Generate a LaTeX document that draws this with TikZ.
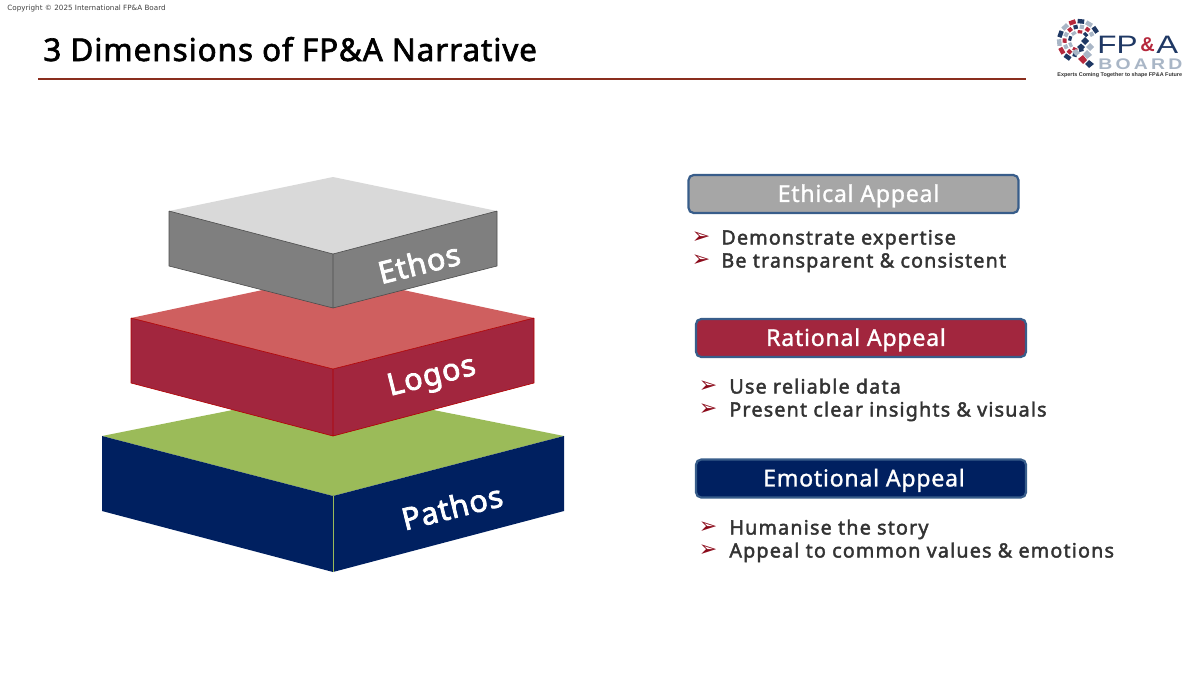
\documentclass[tikz,border=0pt]{standalone}
\usepackage{fontspec}
\usetikzlibrary{calc}
\setmainfont{DejaVu Sans}
\newfontfamily\condfont{Liberation Sans}
\newfontfamily\titlefont[LetterSpace=3,FakeBold=2]{Noto Sans}
\newfontfamily\headfont[LetterSpace=3,FakeBold=1.2]{Noto Sans}
\newfontfamily\slabfont[LetterSpace=3,FakeBold=2.6]{Noto Sans}
\newfontfamily\spacedfont[LetterSpace=6,FakeBold=2.1]{Noto Sans}
\definecolor{navy}{HTML}{002060}
\definecolor{crimson}{HTML}{A2263E}
\definecolor{rosetop}{HTML}{CF5F5F}
\definecolor{grass}{HTML}{9BBB59}
\definecolor{greyfront}{HTML}{7F7F7F}
\definecolor{greytop}{HTML}{D9D9D9}
\definecolor{greybox}{HTML}{A6A6A6}
\definecolor{boxedge}{HTML}{385D8A}
\definecolor{rulered}{HTML}{8A2E1E}
\definecolor{bullred}{HTML}{8B0A1A}
\definecolor{inktext}{HTML}{333333}
\definecolor{logoblue}{HTML}{1F3864}
\definecolor{logogrey}{HTML}{A9B6C6}
\definecolor{logored}{HTML}{B5283C}
\newcommand{\appealtext}[1]{\raisebox{0pt}[7.9pt][0pt]{#1}}
\tikzset{
  appeal/.style={draw=boxedge,line width=1.1pt,rounded corners=2.6pt,minimum width=165pt,minimum height=19pt,inner sep=0pt,text=white,font=\headfont\fontsize{11.6}{14}\selectfont},
  bullettext/.style={anchor=base west,inner sep=0pt,text=inktext,font=\spacedfont\fontsize{9.85}{12}\selectfont},
  arrowbullet/.style={anchor=center,inner sep=0pt,text=bullred,font=\fontsize{11}{12}\selectfont},
  slab/.style={text=white,font=\slabfont\fontsize{15.2}{18}\selectfont,inner sep=0pt},
  ringtile/.style={line cap=butt}
}
\begin{document}
\begin{tikzpicture}[x=0.5pt,y=-0.5pt]
\useasboundingbox (0,0) rectangle (1200,675);
% header
\node[anchor=west,inner sep=0pt,text=black!75,font=\fontsize{3.6}{4}\selectfont] (copy) at (7,9) {Copyright © 2025 International FP\&A Board};
\node[anchor=base west,inner sep=0pt,font=\titlefont\fontsize{15.7}{18}\selectfont,text=black] (title) at (43,61) {3 Dimensions of FP\&A Narrative};
\coordinate (ruleL) at (38,78.5);
\coordinate (ruleR) at (1026,78.5);
\draw[rulered,line width=1pt] (ruleL) -- (ruleR);
% Pathos
\fill[grass] (102,436) -- (333,390) -- (564,436) -- (333,496) -- cycle;
\fill[navy] (102,436) -- (333,496) -- (333,572) -- (102,511) -- cycle;
\fill[navy] (333,496) -- (564,436) -- (564,511) -- (333,572) -- cycle;
\draw[grass,line width=0.3pt] (333,496) -- (333,572);
% Logos
\fill[rosetop] (131,318) -- (333,275) -- (534,318) -- (333,369) -- cycle;
\fill[crimson] (131,318) -- (333,369) -- (333,436) -- (131,383) -- cycle;
\fill[crimson] (333,369) -- (534,318) -- (534,383) -- (333,436) -- cycle;
\draw[red!70!black,line width=0.3pt,line join=round] (131,318) -- (333,369) -- (534,318) (333,369) -- (333,436) (131,383) -- (333,436) -- (534,383) (131,318) -- (131,383) (534,318) -- (534,383);
% Ethos
\fill[greytop] (169,211) -- (333,177) -- (497,211) -- (333,254) -- cycle;
\fill[greyfront] (169,211) -- (333,254) -- (333,308) -- (169,266) -- cycle;
\fill[greyfront] (333,254) -- (497,211) -- (497,266) -- (333,308) -- cycle;
\draw[black!70,line width=0.3pt,line join=round] (169,211) -- (333,254) -- (497,211) (333,254) -- (333,308) (169,266) -- (333,308) -- (497,266) (169,211) -- (169,266) (497,211) -- (497,266);
% slab labels
\node[slab,rotate=14] (ethos) at (419,263) {Ethos};
\node[slab,rotate=14] (logos) at (432,378) {Logos};
\node[slab,rotate=14] (pathos) at (452,507) {Pathos};
% appeal boxes
\node[appeal,fill=greybox] (ethical) at (853.5,194) {\hspace{5pt}\appealtext{Ethical Appeal}};
\node[appeal,fill=crimson] (rational) at (861,338) {\hspace{-5pt}\appealtext{Rational Appeal}};
\node[appeal,fill=navy] (emotional) at (861,478.5) {\hspace{3pt}\appealtext{Emotional Appeal}};
% bullets
\node[arrowbullet] (b1a) at (701,238) {➢};
\node[bullettext] (t1a) at (721,244.5) {Demonstrate expertise};
\node[arrowbullet] (b1b) at (701,261) {➢};
\node[bullettext] (t1b) at (721,267.5) {Be transparent \& consistent};
\node[arrowbullet] (b2a) at (708,387) {➢};
\node[bullettext] (t2a) at (729,393.5) {Use reliable data};
\node[arrowbullet] (b2b) at (708,410) {➢};
\node[bullettext] (t2b) at (729,416.5) {Present clear insights \& visuals};
\node[arrowbullet] (b3a) at (708,528) {➢};
\node[bullettext] (t3a) at (729,534.5) {Humanise the story};
\node[arrowbullet] (b3b) at (708,551) {➢};
\node[bullettext] (t3b) at (729,557.5) {Appeal to common values \& emotions};
% logo mark
\foreach \a/\c in {-25/logoblue,-50/logogrey,-75/logoblue,-100/logored,-125/logogrey,-150/logoblue,-175/logogrey,-200/logored,-225/logoblue}{
  \draw[ringtile,\c,line width=2.2pt] ($(1079,41)+(\a:20)$) -- ($(1079,41)+(\a-19:20)$);
}
\foreach \a/\c in {-20/logogrey,-45/logored,-70/logogrey,-95/logoblue,-120/logored,-145/logogrey,-170/logored,-195/logogrey,-220/logored,-245/logoblue}{
  \draw[ringtile,\c,line width=2pt] ($(1079,41)+(\a:14.5)$) -- ($(1079,41)+(\a-17:14.5)$);
}
\foreach \a/\c in {-30/logoblue,-70/logored,-110/logogrey,-150/logoblue,-190/logogrey,-230/logored,-270/logoblue}{
  \draw[ringtile,\c,line width=1.6pt] ($(1079,41)+(\a:9.5)$) -- ($(1079,41)+(\a-28:9.5)$);
}
\fill[logoblue] (1081,41) -- (1085,37) -- (1089,41) -- (1085,45) -- cycle;
\fill[logogrey] (1086,47) -- (1090,43) -- (1094,47) -- (1090,51) -- cycle;
\fill[logoblue] (1077,47) -- (1081,43.5) -- (1085,47) -- (1081,51) -- cycle;
\fill[logogrey] (1083,54) -- (1087,50) -- (1092,55) -- (1087,59) -- cycle;
\fill[logogrey] (1072,52) -- (1076,49) -- (1080,53) -- (1076,56) -- cycle;
\fill[logored] (1078,59) -- (1083,55) -- (1087,60) -- (1083,64) -- cycle;
\fill[logoblue] (1085,64) -- (1089,60) -- (1094,64) -- (1089,68) -- cycle;
\node[anchor=base west,inner sep=0pt,text=logoblue,font=\condfont\fontsize{12.6}{14}\selectfont] (logofp) at (1097,53) {\scalebox{1.25}[1]{FP}};
\node[anchor=base west,inner sep=0pt,text=logored,font=\condfont\bfseries\fontsize{10}{10}\selectfont] (logoamp) at (1140,51) {\&};
\node[anchor=base west,inner sep=0pt,text=logoblue,font=\condfont\fontsize{12.6}{14}\selectfont] (logoa) at (1156,53) {\scalebox{1.3}[1]{A}};
\node[anchor=base west,inner sep=0pt,text=logogrey,font=\condfont\bfseries\fontsize{7.7}{8}\selectfont] (logoboard) at (1098,69) {\scalebox{1.26}[1]{B\,O\,A\,R\,D}};
\node[anchor=west,inner sep=0pt,text=black!80,font=\condfont\bfseries\fontsize{2.72}{4}\selectfont] (logotag) at (1057,75) {Experts Coming Together to shape FP\&A Future};
\end{tikzpicture}
\end{document}
